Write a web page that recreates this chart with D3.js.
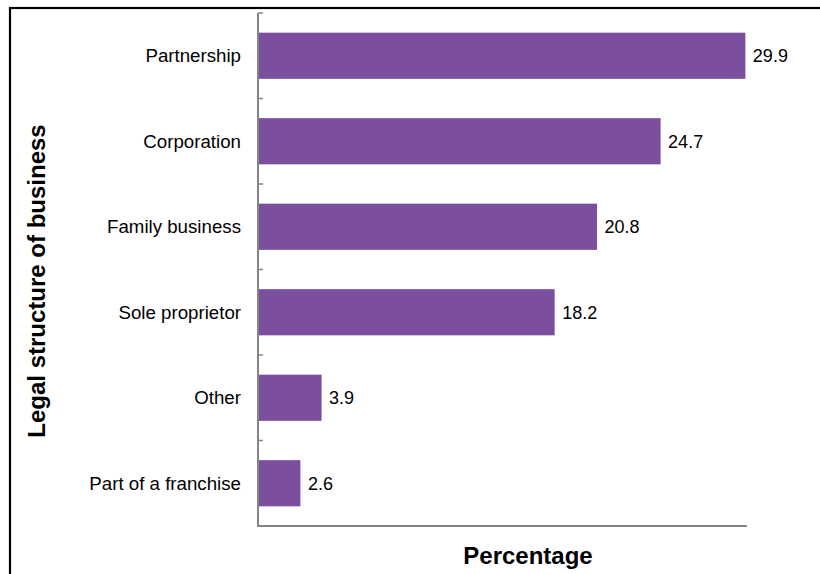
<!DOCTYPE html>
<html>
<head>
<meta charset="utf-8">
<script src="https://cdn.jsdelivr.net/npm/d3@7"></script>
<style>
  html, body { margin: 0; padding: 0; background: #fff; }
  svg { display: block; font-family: "Liberation Sans", Arial, sans-serif; }
</style>
</head>
<body>
<svg id="chart" width="820" height="574"></svg>
<script>
// Legal structure of business, share of respondents (%)
const categories = ["Partnership", "Corporation", "Family business", "Sole proprietor", "Other", "Part of a franchise"];
const values = [29.9, 24.7, 20.8, 18.2, 3.9, 2.6];
const xDomainMax = 30;

const svg = d3.select("#chart");
const W = 820, H = 574;
const plot = { left: 258, right: 747, top: 13, bottom: 526 };

// outer frame (top and left edges visible)
svg.append("rect")
  .attr("x", 10).attr("y", 8)
  .attr("width", W + 20).attr("height", H + 20)
  .attr("fill", "none").attr("stroke", "#000").attr("stroke-width", 2.2);

const x = d3.scaleLinear().domain([0, xDomainMax]).range([plot.left, plot.right]);
const y = d3.scaleBand().domain(categories).range([plot.top, plot.bottom]).paddingInner(0.46).paddingOuter(0.23);

// bars
svg.append("g").selectAll("rect")
  .data(values)
  .join("rect")
  .attr("x", x(0))
  .attr("y", (d, i) => y(categories[i]))
  .attr("width", d => x(d) - x(0))
  .attr("height", y.bandwidth())
  .attr("fill", "#7B4F9D");

// value labels
svg.append("g").selectAll("text")
  .data(values)
  .join("text")
  .attr("x", d => x(d) + 7.5)
  .attr("y", (d, i) => y(categories[i]) + y.bandwidth() / 2)
  .attr("dy", "0.36em")
  .attr("font-size", 18)
  .attr("fill", "#000")
  .text(d => d.toFixed(1));

// category labels
svg.append("g").selectAll("text")
  .data(categories)
  .join("text")
  .attr("x", 241)
  .attr("y", d => y(d) + y.bandwidth() / 2)
  .attr("dy", "0.36em")
  .attr("text-anchor", "end")
  .attr("font-size", 18.7)
  .attr("fill", "#000")
  .text(d => d);

// category axis with inward ticks at band boundaries
const axisColor = "#858585";
const step = (plot.bottom - plot.top) / categories.length;
const boundaries = d3.range(categories.length + 1).map(i => plot.top + i * step);
svg.append("g").selectAll("line")
  .data(boundaries)
  .join("line")
  .attr("x1", plot.left).attr("x2", plot.left + 5)
  .attr("y1", d => d).attr("y2", d => d)
  .attr("stroke", axisColor).attr("stroke-width", 1.5);
svg.append("line")
  .attr("x1", plot.left).attr("x2", plot.left)
  .attr("y1", plot.top).attr("y2", plot.bottom)
  .attr("stroke", axisColor).attr("stroke-width", 2);
// value axis baseline
svg.append("line")
  .attr("x1", plot.left - 1).attr("x2", plot.right)
  .attr("y1", plot.bottom).attr("y2", plot.bottom)
  .attr("stroke", axisColor).attr("stroke-width", 2);

// axis titles
svg.append("text")
  .attr("x", 528).attr("y", 564)
  .attr("text-anchor", "middle")
  .attr("font-size", 24).attr("font-weight", "bold")
  .text("Percentage");
svg.append("text")
  .attr("transform", "translate(45,281) rotate(-90)")
  .attr("text-anchor", "middle")
  .attr("font-size", 24).attr("font-weight", "bold")
  .text("Legal structure of business");
</script>
</body>
</html>
